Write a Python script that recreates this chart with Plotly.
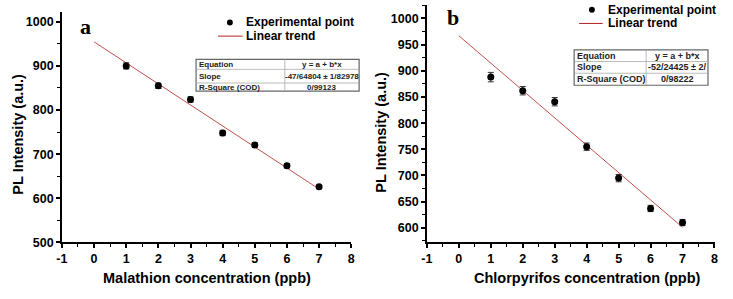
import plotly.graph_objects as go

# ---- data ----
conc = [1, 2, 3, 4, 5, 6, 7]
mal_pl = [900, 855, 824, 748, 721, 674, 626]
mal_err = [7, 6, 6, 6, 5, 5, 4]
mal_trend_x = [0, 7]
mal_trend_y = [954.5, 621]

chl_pl = [888, 862, 841, 755, 695, 637, 610]
chl_err = [9, 8, 8, 7, 7, 6, 6]
chl_trend_x = [0, 7]
chl_trend_y = [967, 601]

x_ticks = [-1, 0, 1, 2, 3, 4, 5, 6, 7, 8]
x_tick_labels = ["-1", "0", "1", "2", "3", "4", "5", "6", "7", "8"]
mal_y_ticks = [500, 600, 700, 800, 900, 1000]
chl_y_ticks = [600, 650, 700, 750, 800, 850, 900, 950, 1000]

mal_table = [["Equation", "y = a + b*x"], ["Slope", "-47/64804 \u00b1 1/82978"], ["R-Square (COD)", "0/99123"]]
chl_table = [["Equation", "y = a + b*x"], ["Slope", "-52/24425 \u00b1 2/"], ["R-Square (COD)", "0/98222"]]

W, H = 733, 299
def px(x):
    return x / W
def py(y):
    return 1 - y / H

FONT = "Liberation Sans, Arial, sans-serif"
TREND = "#c0504d"

fig = go.Figure()

# left panel
fig.add_trace(go.Scatter(x=mal_trend_x, y=mal_trend_y, mode="lines",
                         line=dict(color=TREND, width=1), xaxis="x", yaxis="y", showlegend=False))
fig.add_trace(go.Scatter(x=conc, y=mal_pl, mode="markers",
                         marker=dict(color="black", size=7),
                         error_y=dict(type="data", array=mal_err, color="#333", thickness=1, width=3),
                         xaxis="x", yaxis="y", showlegend=False))
# right panel
fig.add_trace(go.Scatter(x=chl_trend_x, y=chl_trend_y, mode="lines",
                         line=dict(color=TREND, width=1), xaxis="x2", yaxis="y2", showlegend=False))
fig.add_trace(go.Scatter(x=conc, y=chl_pl, mode="markers",
                         marker=dict(color="black", size=7),
                         error_y=dict(type="data", array=chl_err, color="#333", thickness=1, width=3),
                         xaxis="x2", yaxis="y2", showlegend=False))

axis_common = dict(showline=True, linecolor="black", linewidth=1.5, ticks="outside",
                   ticklen=4, tickwidth=1.5, tickcolor="black", showgrid=False, zeroline=False,
                   tickfont=dict(family=FONT, size=12.5, color="black", weight="bold"))

fig.update_layout(
    width=W, height=H, margin=dict(l=0, r=0, t=0, b=0),
    paper_bgcolor="white", plot_bgcolor="white",
    xaxis=dict(domain=[px(56.7), px(350)], range=[-1, 8], tickvals=x_ticks, ticktext=x_tick_labels,
               anchor="y",
               minor=dict(ticks="outside", ticklen=3, dtick=0.5, tickcolor="black", tickwidth=1),
               **axis_common),
    yaxis=dict(domain=[py(248.3), py(12)], range=[500, 1022.8], tickvals=mal_y_ticks, anchor="x",
               minor=dict(ticks="outside", ticklen=3, dtick=50, tickcolor="black", tickwidth=1),
               **axis_common),
    xaxis2=dict(domain=[px(426.7), px(718.3)], range=[-1, 8], tickvals=x_ticks, ticktext=x_tick_labels,
                anchor="y2",
                minor=dict(ticks="outside", ticklen=3, dtick=0.5, tickcolor="black", tickwidth=1),
                **axis_common),
    yaxis2=dict(domain=[py(247.7), py(5)], range=[573.1, 1026], tickvals=chl_y_ticks, anchor="x2",
                minor=dict(ticks="outside", ticklen=3, dtick=25, tickcolor="black", tickwidth=1),
                **axis_common),
)

ann = []
shapes = []
def text(x, y, s, size=14, angle=0, xanchor="center", family=FONT, bold=True, color="black"):
    ann.append(dict(x=px(x), y=py(y), xref="paper", yref="paper", text=s, showarrow=False,
                    xanchor=xanchor, yanchor="middle", textangle=angle, borderpad=0,
                    font=dict(family=family, size=size, color=color, weight="bold" if bold else "normal")))

# axis titles
text(204, 285, "Malathion concentration (ppb)", size=14.5)
text(590, 285, "Chlorpyrifos concentration (ppb)", size=14.5)
text(12, 137, "PL Intensity (a.u.)", size=14.5, angle=-90)
text(380, 135, "PL Intensity (a.u.)", size=14.5, angle=-90)

# panel labels
text(81, 27, "a", size=22, family="Liberation Serif, Times New Roman, serif")
text(453, 18, "b", size=22, family="Liberation Serif, Times New Roman, serif")

# legends
def legend(mx, my, lx0, lx1, ly, tx):
    shapes.append(dict(type="circle", xref="paper", yref="paper",
                       x0=px(mx - 3), x1=px(mx + 3), y0=py(my + 3), y1=py(my - 3),
                       fillcolor="black", line=dict(color="black", width=0)))
    shapes.append(dict(type="line", xref="paper", yref="paper",
                       x0=px(lx0), x1=px(lx1), y0=py(ly), y1=py(ly),
                       line=dict(color="#b22222", width=1)))
    text(tx, my, "Experimental point", size=12, xanchor="left")
    text(tx, ly, "Linear trend", size=12, xanchor="left")

legend(227, 23, 215, 240, 37, 242)
legend(594, 10, 581, 605, 24, 609)

# tables
def table(x0, x1, xd, rows_y, rows, size):
    shapes.append(dict(type="rect", xref="paper", yref="paper",
                       x0=px(x0), x1=px(x1), y0=py(rows_y[-1]), y1=py(rows_y[0]),
                       line=dict(color="#666", width=1.2), fillcolor="white"))
    shapes.append(dict(type="line", xref="paper", yref="paper",
                       x0=px(xd), x1=px(xd), y0=py(rows_y[-1]), y1=py(rows_y[0]),
                       line=dict(color="#aaa", width=0.8)))
    for yy in rows_y[1:-1]:
        shapes.append(dict(type="line", xref="paper", yref="paper",
                           x0=px(x0), x1=px(x1), y0=py(yy), y1=py(yy),
                           line=dict(color="#aaa", width=0.8)))
    for i, (a, b) in enumerate(rows):
        yc = (rows_y[i] + rows_y[i + 1]) / 2
        text(x0 + 2, yc, a, size=size, xanchor="left", color="#222")
        text((xd + x1) / 2, yc, b, size=size, color="#222")

table(192.7, 358, 282.7, [60.7, 71, 85, 93.3], mal_table, 8)
table(576, 711.7, 649, [51, 63, 75, 87.3], chl_table, 9)

fig.update_layout(annotations=ann, shapes=shapes)
fig.write_html("out.html", config={"displayModeBar": False},
               post_script="document.body.style.margin='0';")
